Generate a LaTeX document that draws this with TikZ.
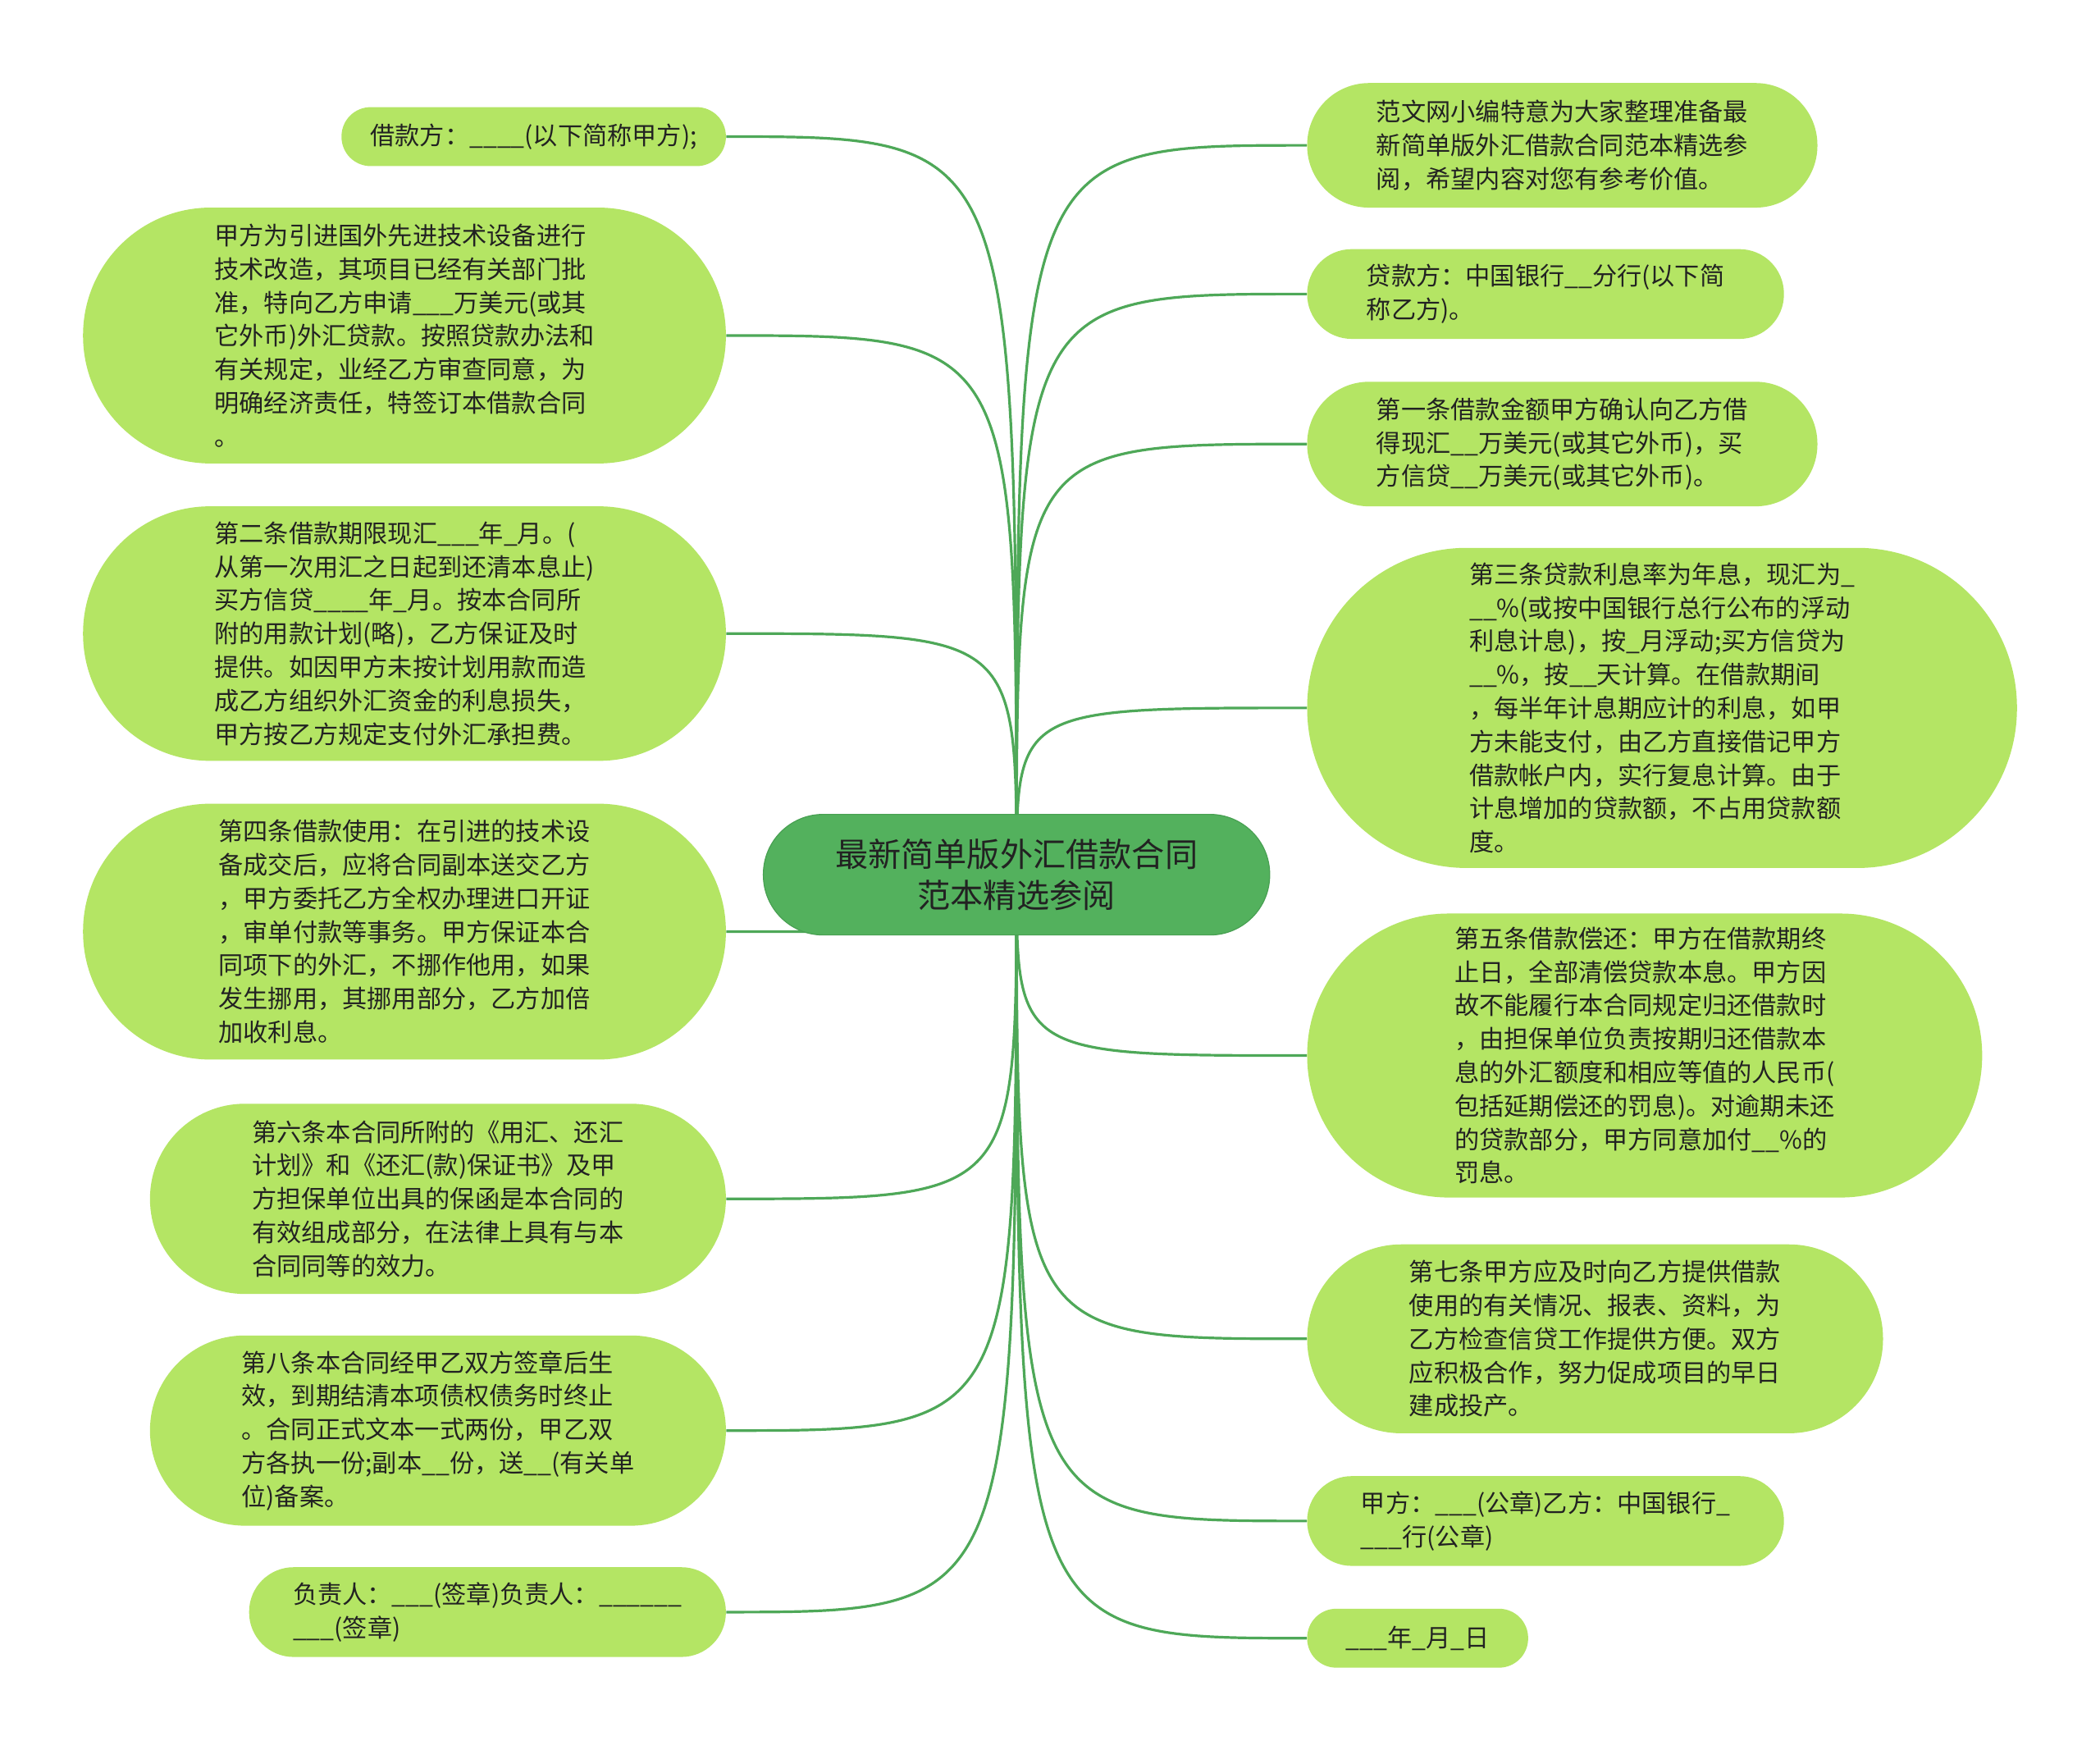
\documentclass[tikz,border=0pt]{standalone}
\usepackage{fontspec}
\setmainfont{Noto Sans CJK SC}
\usetikzlibrary{backgrounds}
\definecolor{leaffill}{RGB}{180,229,100}
\definecolor{rootfill}{RGB}{83,177,93}
\definecolor{rootdraw}{RGB}{72,160,82}
\definecolor{linkcol}{RGB}{78,168,88}
\definecolor{txtcol}{RGB}{34,34,34}
\newcommand\leafbox[6]{%
  \pgfmathsetmacro\lbw{(#4-#2)*0.8163}%
  \pgfmathsetmacro\lbh{(#5-#3)*0.8163}%
  \pgfmathsetmacro\lbr{\lbh/2-0.2}%
  \node[leaf, minimum width=\lbw pt, minimum height=\lbh pt, rounded corners=\lbr pt]
    (#1) at ({(#2+#4)/2},{(#3+#5)/2}) {#6};}
\begin{document}
\begin{tikzpicture}[x=0.8163pt, y=-0.8163pt,
  leaf/.style={fill=leaffill, draw=none, text=txtcol, align=left, inner sep=0pt,
    font=\fontsize{15.1pt}{20.4pt}\selectfont},
  root/.style={fill=rootfill, draw=rootdraw, line width=0.6pt, text=txtcol, align=center,
    inner sep=0pt, minimum width=308.6pt, minimum height=73.5pt, rounded corners=36.5pt,
    font=\fontsize{20.1pt}{25.3pt}\selectfont},
  link/.style={draw=linkcol, line width=1.6pt}]
\useasboundingbox (0,0) rectangle (1568,1306);

\node[root] (root) at (759,653) {最新简单版外汇借款合同\\范本精选参阅};

% left side
\leafbox{l1}{255}{80}{542}{124}{借款方：\_\_\_\_(以下简称甲方);}
\leafbox{l2}{62}{155}{542}{346}{甲方为引进国外先进技术设备进行\\技术改造，其项目已经有关部门批\\准，特向乙方申请\_\_\_万美元(或其\\它外币)外汇贷款。按照贷款办法和\\有关规定，业经乙方审查同意，为\\明确经济责任，特签订本借款合同\\。}
\leafbox{l3}{62}{378}{542}{568}{第二条借款期限现汇\_\_\_年\_月。(\\从第一次用汇之日起到还清本息止)\\买方信贷\_\_\_\_年\_月。按本合同所\\附的用款计划(略)，乙方保证及时\\提供。如因甲方未按计划用款而造\\成乙方组织外汇资金的利息损失，\\甲方按乙方规定支付外汇承担费。}
\leafbox{l4}{62}{600}{542}{791}{第四条借款使用：在引进的技术设\\备成交后，应将合同副本送交乙方\\，甲方委托乙方全权办理进口开证\\，审单付款等事务。甲方保证本合\\同项下的外汇，不挪作他用，如果\\发生挪用，其挪用部分，乙方加倍\\加收利息。}
\leafbox{l5}{112}{824}{542}{966}{第六条本合同所附的《用汇、还汇\\计划》和《还汇(款)保证书》及甲\\方担保单位出具的保函是本合同的\\有效组成部分，在法律上具有与本\\合同同等的效力。}
\leafbox{l6}{112}{997}{542}{1139}{第八条本合同经甲乙双方签章后生\\效，到期结清本项债权债务时终止\\。合同正式文本一式两份，甲乙双\\方各执一份;副本\_\_份，送\_\_(有关单\\位)备案。}
\leafbox{l7}{186}{1170}{542}{1237}{负责人：\_\_\_(签章)负责人：\_\_\_\_\_\_\\\_\_\_(签章)}

% right side
\leafbox{r1}{976}{62}{1357}{155}{范文网小编特意为大家整理准备最\\新简单版外汇借款合同范本精选参\\阅，希望内容对您有参考价值。}
\leafbox{r2}{976}{186}{1332}{253}{贷款方：中国银行\_\_分行(以下简\\称乙方)。}
\leafbox{r3}{976}{285}{1357}{378}{第一条借款金额甲方确认向乙方借\\得现汇\_\_万美元(或其它外币)，买\\方信贷\_\_万美元(或其它外币)。}
\leafbox{r4}{976}{409}{1506}{648}{第三条贷款利息率为年息，现汇为\_\\\_\_\%(或按中国银行总行公布的浮动\\利息计息)，按\_月浮动;买方信贷为\\\_\_\%，按\_\_天计算。在借款期间\\，每半年计息期应计的利息，如甲\\方未能支付，由乙方直接借记甲方\\借款帐户内，实行复息计算。由于\\计息增加的贷款额，不占用贷款额\\度。}
\leafbox{r5}{976}{682}{1480}{894}{第五条借款偿还：甲方在借款期终\\止日，全部清偿贷款本息。甲方因\\故不能履行本合同规定归还借款时\\，由担保单位负责按期归还借款本\\息的外汇额度和相应等值的人民币(\\包括延期偿还的罚息)。对逾期未还\\的贷款部分，甲方同意加付\_\_\%的\\罚息。}
\leafbox{r6}{976}{929}{1406}{1070}{第七条甲方应及时向乙方提供借款\\使用的有关情况、报表、资料，为\\乙方检查信贷工作提供方便。双方\\应积极合作，努力促成项目的早日\\建成投产。}
\leafbox{r7}{976}{1102}{1332}{1169}{甲方：\_\_\_(公章)乙方：中国银行\_\\\_\_\_行(公章)}
\leafbox{r8}{976}{1201}{1141}{1245}{\_\_\_年\_月\_日}

\begin{scope}[on background layer]
  \fill[white] (0,0) rectangle (1568,1306);
  \foreach \n in {l1,l2,l3,l4,l5,l6,l7}
    \draw[link] (root.center) .. controls (root.center |- \n.east) .. (\n.east);
  \foreach \n in {r1,r2,r3,r4,r5,r6,r7,r8}
    \draw[link] (root.center) .. controls (root.center |- \n.west) .. (\n.west);
\end{scope}
\end{tikzpicture}
\end{document}
